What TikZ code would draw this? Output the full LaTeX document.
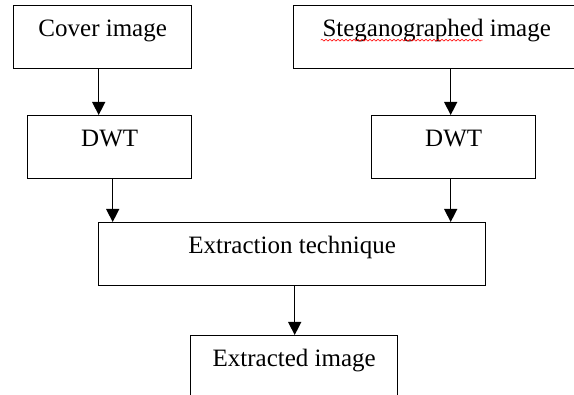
\documentclass[tikz,border=0pt]{standalone}
\usepackage{fontspec}
\setmainfont{Liberation Serif}
\usetikzlibrary{arrows.meta,decorations.pathmorphing}
\tikzset{
  blk/.style={draw,line width=1.4pt,anchor=north west,inner xsep=0pt,inner ysep=0pt,
              text height=31pt,text depth=32pt,font=\fontsize{25}{30}\selectfont},
  arr/.style={-{Triangle[length=13pt,width=13pt]},line width=1.4pt},
  spell/.style={red,line width=0.6pt,decorate,
                decoration={snake,segment length=4pt,amplitude=0.9pt}},
}

\begin{document}
\begin{tikzpicture}[x=1pt,y=-1pt]
        \useasboundingbox (0,0) rectangle (574,395);
        \node[blk,minimum width=178pt] (cover) at (13,5) {Cover image};
        \node[blk,minimum width=286pt] (steg) at (293,5) {Steganographed image};
        \node[blk,minimum width=164pt] (dwtl) at (27,115) {DWT};
        \node[blk,minimum width=164pt] (dwtr) at (371,115) {DWT};
        \node[blk,minimum width=387pt] (extr) at (98,222) {Extraction technique};
        \node[blk,minimum width=207pt,text depth=50pt] (out) at (190,335)
              {Extracted image};
        \draw[spell] ([xshift=-116pt,yshift=-3.5pt]steg.base)
              -- ([xshift=46pt,yshift=-3.5pt]steg.base);
        \draw[arr] ([xshift=-4pt]cover.south) -- ([xshift=-11pt]dwtl.north);
        \draw[arr] ([xshift=14pt]steg.south) -- ([xshift=-3pt]dwtr.north);
        \draw[arr] ([xshift=3pt]dwtl.south) -- ([xshift=-179.5pt]extr.north);
        \draw[arr] ([xshift=-3pt]dwtr.south) -- ([xshift=158.5pt]extr.north);
        \draw[arr] ([xshift=2.5pt]extr.south) -- ([xshift=0.5pt]out.north);
      \end{tikzpicture}
\end{document}
